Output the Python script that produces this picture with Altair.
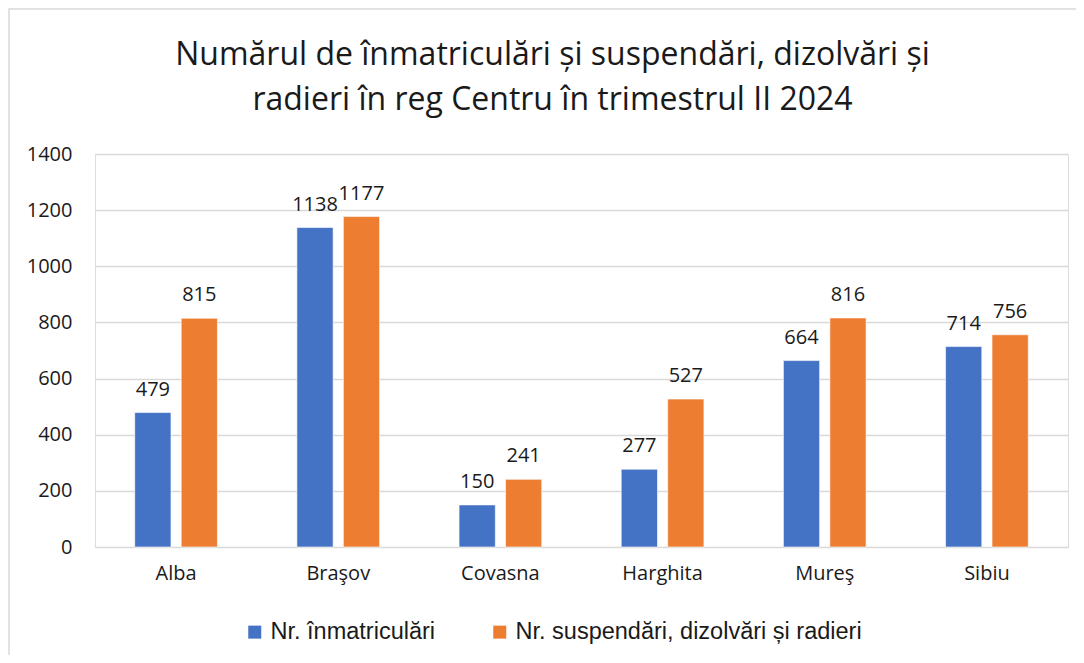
import altair as alt
import pandas as pd

judete = ["Alba", "Braşov", "Covasna", "Harghita", "Mureş", "Sibiu"]
inmatriculari = [479, 1138, 150, 277, 664, 714]
suspendari = [815, 1177, 241, 527, 816, 756]
serii = ["Nr. înmatriculări", "Nr. suspendări, dizolvări și radieri"]
culori = ["#4472C4", "#ED7D31"]
y_ticks = [0, 200, 400, 600, 800, 1000, 1200, 1400]
titlu = ["Numărul de înmatriculări și suspendări, dizolvări și",
         "radieri în reg Centru în trimestrul II 2024"]

rows = []
for j, a, b in zip(judete, inmatriculari, suspendari):
    rows.append({"judet": j, "serie": serii[0], "valoare": a})
    rows.append({"judet": j, "serie": serii[1], "valoare": b})
df = pd.DataFrame(rows)

TXT = "#1a1a1a"
FONT = "Open Sans"

x = alt.X("judet:N", sort=judete,
          scale=alt.Scale(paddingInner=0.49, paddingOuter=0.245),
          axis=alt.Axis(title=None, labelAngle=0, ticks=False, domainColor="#d9d9d9",
                        domainWidth=1, labelFont=FONT, labelFontSize=20,
                        labelColor=TXT, labelPadding=16))
xo = alt.XOffset("serie:N", sort=serii, scale=alt.Scale(paddingInner=0.22, paddingOuter=0))
y = alt.Y("valoare:Q", scale=alt.Scale(domain=[0, 1400], nice=False),
          axis=alt.Axis(title=None, values=y_ticks, format="d", ticks=False, domain=False,
                        gridColor="#d9d9d9", gridWidth=1.3, labelFont=FONT,
                        labelFontSize=20, labelColor=TXT, labelPadding=23))
color = alt.Color("serie:N", sort=serii,
                  scale=alt.Scale(domain=serii, range=culori),
                  legend=alt.Legend(title=None, orient="none", legendX=148, legendY=466,
                                    direction="horizontal", symbolType="square",
                                    symbolSize=169, symbolStrokeWidth=0,
                                    labelFont="Liberation Sans", labelFontSize=23.5,
                                    labelColor=TXT, labelOffset=4, columnPadding=52,
                                    labelLimit=600))

border_df = pd.DataFrame({"k": [1]})
border = alt.Chart(border_df).mark_rect(fill="white", fillOpacity=0, stroke="#d9d9d9",
                                        strokeWidth=1.5).encode(
    x=alt.value(-86), x2=alt.value(995), y=alt.value(-145), y2=alt.value(520))

bars = alt.Chart(df).mark_bar(stroke="white", strokeWidth=0.6).encode(
    x=x, xOffset=xo, y=y, color=color)

labels = alt.Chart(df).mark_text(dy=-17, baseline="alphabetic", font=FONT,
                                 fontSize=20, color=TXT).encode(
    x=x, xOffset=xo, y=y, text=alt.Text("valoare:Q", format="d"))

chart = alt.layer(border, bars, labels).properties(
    width=973, height=393,
    autosize=alt.AutoSizeParams(type="none"),
    padding={"left": 87, "top": 146, "right": 8, "bottom": 108},
    title=alt.TitleParams(text=titlu, anchor="middle", font=FONT, fontSize=32,
                          fontWeight="normal", color=TXT, lineHeight=45,
                          offset=0, dy=109, dx=-29),
).configure_view(stroke=None).configure(background="white")

chart.save("out.html", embed_options={"renderer": "svg", "actions": False})
